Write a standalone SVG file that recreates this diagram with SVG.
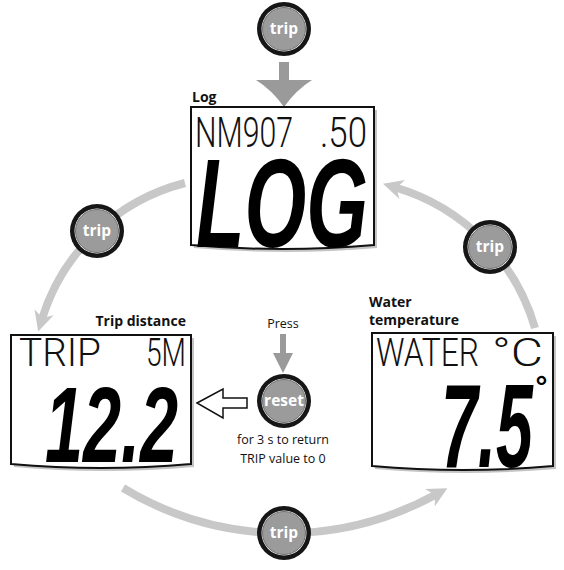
<svg xmlns="http://www.w3.org/2000/svg" width="564" height="570" viewBox="0 0 564 570">
<style>
.arc{fill:none;stroke:#c8c8c8;stroke-width:8;marker-end:url(#ah)}
.lbl{font-family:"Open Sans","Liberation Sans",sans-serif;font-weight:bold;font-size:14px;fill:#111}
.note{font-family:"Open Sans","Liberation Sans",sans-serif;font-size:12.5px;fill:#111}
.btxt{font-family:"Open Sans","Liberation Sans",sans-serif;font-weight:bold;font-size:15.5px;fill:#fff;text-anchor:middle}
.lcd{font-family:Roboto,"DejaVu Sans",sans-serif;font-weight:300;fill:#111}
.big{font-family:"Liberation Sans",Arial,sans-serif;font-weight:bold;font-style:italic;fill:#000}
.frame{fill:#fff;stroke:#111;stroke-width:2}
.shadow{fill:#c4c4c4}
.dark{fill:#9a9a9a}
</style>
<defs>
<marker id="ah" markerUnits="userSpaceOnUse" markerWidth="24" markerHeight="24" viewBox="0 -12 24 24" refX="7" refY="0" orient="auto">
<path d="M0,-10 L20,0 L0,10 L6,0 Z" fill="#c8c8c8"/>
</marker>
<g id="btn">
<circle r="27" fill="#161616"/>
<circle r="22.5" fill="#fff"/>
<circle r="21.5" fill="#9b9b9b" stroke="#707070" stroke-width="1"/>
</g>
</defs>
<rect width="564" height="570" fill="#fff"/>

<g id="connectors">
<path class="arc" d="M185,183 A202,202 0 0 0 42,319"/>
<path class="arc" d="M535,328 A206,206 0 0 0 395.5,187.5"/>
<path class="arc" d="M123,488 A313,313 0 0 0 436,494.4"/>
<path class="dark" d="M279,62 H289 V80 H312 Q296,90 284,107 Q272,90 256,80 H279 Z"/>
<path class="dark" d="M280,334 H286 V353 H293 L283,373 L273,353 H280 Z"/>
<path d="M197,403 L223,389 V398 H247 V408 H223 V418 Z" fill="#fff" stroke="#111" stroke-width="1.5" stroke-linejoin="miter"/>
</g>

<g id="log-display">
<text class="lbl" x="192" y="102">Log</text>
<path class="shadow" d="M194,110 H377 V248 Q285.5,256 194,248 Z"/>
<path class="frame" d="M191,107 H374 V245 Q282.5,253 191,245 Z"/>
<text class="lcd" x="195" y="147" font-size="42" textLength="98" lengthAdjust="spacingAndGlyphs">NM907</text>
<text class="lcd" x="320" y="147" font-size="42" textLength="47" lengthAdjust="spacingAndGlyphs">.50</text>
<text class="big" transform="translate(196,247) scale(0.63,1)" font-size="126">LOG</text>
</g>

<g id="trip-display">
<text class="lbl" x="186" y="326" text-anchor="end">Trip distance</text>
<path class="shadow" d="M14,338 H194 V467 Q104,475 14,467 Z"/>
<path class="frame" d="M11,335 H191 V464 Q101,472 11,464 Z"/>
<text class="lcd" x="19" y="366" font-size="38" textLength="82" lengthAdjust="spacingAndGlyphs">TRIP</text>
<text class="lcd" x="146" y="366" font-size="38" textLength="40" lengthAdjust="spacingAndGlyphs">5M</text>
<text class="big" transform="translate(45,462) scale(0.633,1)" font-size="108">12.2</text>
</g>

<g id="water-display">
<text class="lbl" x="369" y="307">Water</text>
<text class="lbl" x="369" y="325">temperature</text>
<path class="shadow" d="M375,336 H556 V469 Q465.5,477 375,469 Z"/>
<path class="frame" d="M372,333 H553 V466 Q462.5,474 372,466 Z"/>
<text class="lcd" x="376" y="366" font-size="38" textLength="103" lengthAdjust="spacingAndGlyphs">WATER</text>
<text class="lcd" x="492" y="366" font-size="38" textLength="51" lengthAdjust="spacingAndGlyphs">°C</text>
<text class="big" transform="translate(441,467) scale(0.56,1)" font-size="118">7.5</text>
<text class="big" x="534" y="397" font-size="30" font-style="normal">°</text>
</g>

<g id="trip-top">
<use href="#btn" x="284" y="29"/>
<text class="btxt" x="284" y="34">trip</text>
</g>
<g id="trip-left">
<use href="#btn" x="97" y="231"/>
<text class="btxt" x="97" y="236">trip</text>
</g>
<g id="trip-right">
<use href="#btn" x="490" y="247"/>
<text class="btxt" x="490" y="252">trip</text>
</g>
<g id="trip-bottom">
<use href="#btn" x="284" y="533"/>
<text class="btxt" x="284" y="538">trip</text>
</g>
<g id="reset">
<text class="note" x="283" y="328" text-anchor="middle">Press</text>
<use href="#btn" x="284" y="401"/>
<text class="btxt" x="284" y="406">reset</text>
<text class="note" x="283" y="444" text-anchor="middle">for 3 s to return</text>
<text class="note" x="283" y="463" text-anchor="middle">TRIP value to 0</text>
</g>
</svg>
